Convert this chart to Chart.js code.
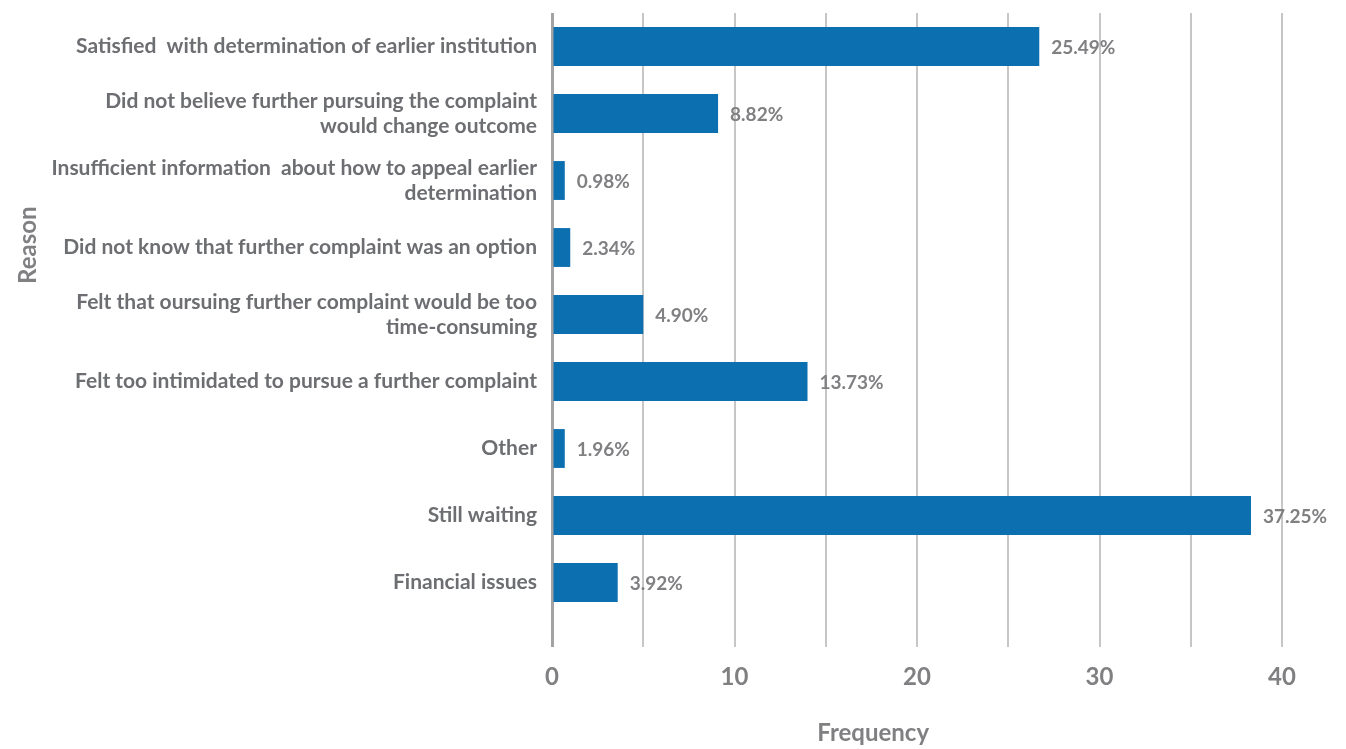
<!DOCTYPE html>
<html>
<head>
<meta charset="utf-8">
<script src="https://cdn.jsdelivr.net/npm/chart.js@4/dist/chart.umd.min.js"></script>
<style>
  body { margin: 0; background: #ffffff; }
  #wrap { width: 1346px; height: 749px; }
</style>
</head>
<body>
<div id="wrap"><canvas id="reasonChart" width="1346" height="749"></canvas></div>
<script>
// Reasons, read top to bottom
const reasons = [
    'Satisfied  with determination of earlier institution',
    ['Did not believe further pursuing the complaint', 'would change outcome'],
    ['Insufficient information  about how to appeal earlier', 'determination'],
    'Did not know that further complaint was an option',
    ['Felt that oursuing further complaint would be too', 'time-consuming'],
    'Felt too intimidated to pursue a further complaint',
    'Other',
    'Still waiting',
    'Financial issues'
];

// bar lengths (frequency) as drawn
const frequencies = [26.7, 9.1, 0.7, 1.0, 5.0, 14.0, 0.7, 38.3, 3.6];

// labels printed next to each bar
const percentLabels = ['25.49%', '8.82%', '0.98%', '2.34%', '4.90%', '13.73%', '1.96%', '37.25%', '3.92%'];

const xMin = 0;
const xMax = 40;
const xStep = 5;

const BAR_BLUE = '#0b6fb0';
const TEXT_GREY = '#6d6e71';
const TICK_GREY = '#808083';

document.addEventListener('DOMContentLoaded', function() {
    initializeChart();
});

// draws the percentage text just past the end of each bar
const barValueLabels = {
    id: 'barValueLabels',
    afterDatasetsDraw(chart) {
        const ctx = chart.ctx;
        const meta = chart.getDatasetMeta(0);
        ctx.save();
        ctx.font = 'bold 19px Lato';
        ctx.fillStyle = TICK_GREY;
        ctx.textAlign = 'left';
        ctx.textBaseline = 'middle';
        meta.data.forEach((bar, i) => {
            ctx.fillText(percentLabels[i], bar.x + 12, bar.y + 1);
        });
        ctx.restore();
    }
};

// axis titles sit off-centre in the original, so place them by hand
const axisTitles = {
    id: 'axisTitles',
    afterDraw(chart) {
        const ctx = chart.ctx;
        const area = chart.chartArea;
        ctx.save();
        ctx.font = 'bold 24px Lato';
        ctx.fillStyle = TICK_GREY;
        ctx.textAlign = 'center';
        ctx.textBaseline = 'middle';
        ctx.fillText('Frequency', area.left + (area.right - area.left) * 0.44, chart.height - 16);
        ctx.translate(28, area.top + (area.bottom - area.top) * 0.385);
        ctx.rotate(-Math.PI / 2);
        ctx.fillText('Reason', 0, 0);
        ctx.restore();
    }
};

function initializeChart() {
    const ctx = document.getElementById('reasonChart').getContext('2d');
    const chart = new Chart(ctx, {
        type: 'bar',
        data: {
            labels: reasons,
            datasets: [{
                label: 'Frequency',
                data: frequencies,
                backgroundColor: BAR_BLUE,
                borderWidth: 0,
                categoryPercentage: 1.0,
                barPercentage: 0.58
            }]
        },
        options: {
            indexAxis: 'y',
            responsive: false,
            animation: false,
            layout: {
                padding: { top: 0, right: 64, bottom: 0, left: 0 }
            },
            plugins: {
                legend: { display: false },
                tooltip: { enabled: false }
            },
            scales: {
                x: {
                    min: xMin,
                    max: xMax,
                    border: { display: false },
                    grid: {
                        color: (c) => (c.tick && c.tick.value === 0) ? '#a3a3a5' : '#c6c6c6',
                        lineWidth: (c) => (c.tick && c.tick.value === 0) ? 3 : 2,
                        tickLength: 31,
                        drawTicks: true
                    },
                    ticks: {
                        stepSize: xStep,
                        padding: 16,
                        color: TICK_GREY,
                        font: { family: 'Lato', size: 24, weight: 'bold' },
                        maxRotation: 0,
                        callback: (value) => (value % 10 === 0 ? String(value) : '')
                    },
                    afterFit(scale) {
                        scale.height = 133;
                    }
                },
                y: {
                    border: { display: false },
                    grid: { display: false, drawTicks: false },
                    ticks: {
                        padding: 15,
                        color: TEXT_GREY,
                        font: { family: 'Lato', size: 21, weight: 'bold', lineHeight: 1.2 }
                    },
                    afterFit(scale) {
                        scale.width = 552;
                        scale.paddingTop = 13;
                        scale.paddingBottom = 0;
                    }
                }
            }
        },
        plugins: [barValueLabels, axisTitles]
    });

    window.reasonChart = chart;
}
</script>
</body>
</html>
